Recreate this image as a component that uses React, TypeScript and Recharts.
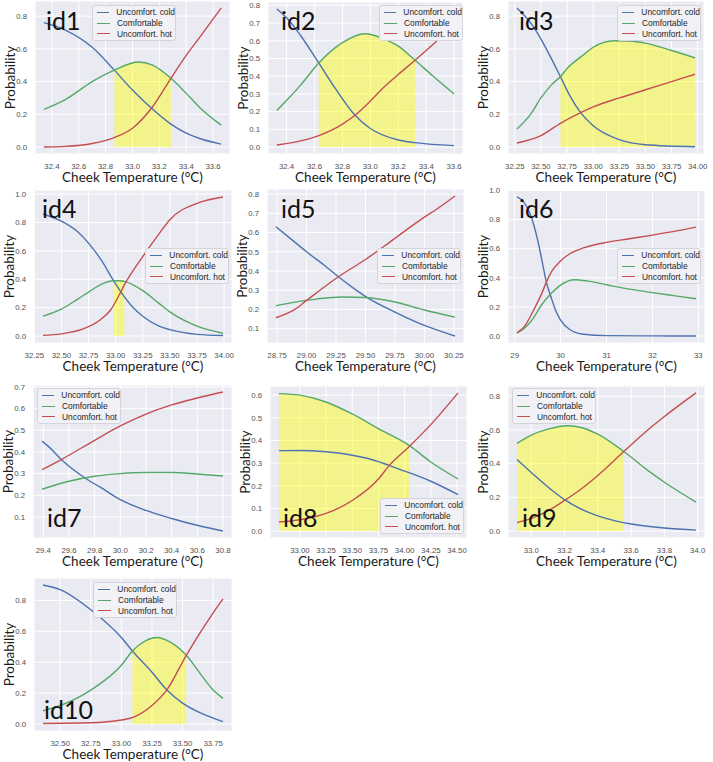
import React from 'react';
import { ComposedChart, Line, Area, XAxis, YAxis, CartesianGrid, Legend } from 'recharts';

type Pt = [number, number];

const seriesNames = ['Uncomfort. cold', 'Comfortable', 'Uncomfort. hot'];
const seriesColors = ['#4C72B0', '#55A868', '#C44E52'];

// id1
const id1Cold: Pt[] = [[32.34, 0.76], [32.5, 0.715], [32.7, 0.61], [32.865, 0.47], [33.0, 0.348], [33.144, 0.235], [33.286, 0.14], [33.4, 0.085], [33.5, 0.052], [33.66, 0.018]];
const id1Comfort: Pt[] = [[32.34, 0.23], [32.5, 0.29], [32.7, 0.4], [32.865, 0.47], [33.044, 0.52], [33.15, 0.5], [33.286, 0.42], [33.4, 0.328], [33.5, 0.242], [33.66, 0.134]];
const id1Hot: Pt[] = [[32.34, 0.0], [32.5, 0.004], [32.7, 0.022], [32.865, 0.058], [33.0, 0.115], [33.144, 0.24], [33.286, 0.42], [33.4, 0.56], [33.5, 0.67], [33.66, 0.85]];
const id1Zone: Pt = [32.865, 33.286];
const id1XTicks = [32.4, 32.6, 32.8, 33.0, 33.2, 33.4, 33.6];
const id1YTicks = [0, 0.2, 0.4, 0.6, 0.8];

// id2
const id2Cold: Pt[] = [[32.33, 0.78], [32.4, 0.73], [32.5, 0.63], [32.63, 0.475], [32.75, 0.33], [32.89, 0.18], [33.0, 0.105], [33.2, 0.04], [33.32, 0.025], [33.6, 0.008]];
const id2Comfort: Pt[] = [[32.33, 0.207], [32.4, 0.264], [32.5, 0.35], [32.63, 0.475], [32.8, 0.59], [32.96, 0.64], [33.1, 0.61], [33.2, 0.57], [33.32, 0.49], [33.45, 0.4], [33.6, 0.3]];
const id2Hot: Pt[] = [[32.33, 0.012], [32.5, 0.035], [32.63, 0.065], [32.8, 0.13], [32.89, 0.18], [33.0, 0.26], [33.1, 0.34], [33.2, 0.41], [33.32, 0.49], [33.45, 0.58], [33.6, 0.69]];
const id2Zone: Pt = [32.63, 33.32];
const id2XTicks = [32.4, 32.6, 32.8, 33.0, 33.2, 33.4, 33.6];
const id2YTicks = [0, 0.1, 0.2, 0.3, 0.4, 0.5, 0.6, 0.7, 0.8];

// id3
const id3Cold: Pt[] = [[32.27, 0.85], [32.4, 0.76], [32.5, 0.66], [32.6, 0.54], [32.686, 0.43], [32.78, 0.31], [32.88, 0.21], [33.0, 0.13], [33.25, 0.045], [33.5, 0.014], [33.975, 0.002]];
const id3Comfort: Pt[] = [[32.27, 0.11], [32.4, 0.2], [32.5, 0.3], [32.6, 0.38], [32.686, 0.43], [32.75, 0.48], [32.9, 0.56], [33.0, 0.61], [33.2, 0.65], [33.35, 0.648], [33.5, 0.635], [33.75, 0.59], [33.975, 0.545]];
const id3Hot: Pt[] = [[32.27, 0.025], [32.5, 0.07], [32.686, 0.145], [32.88, 0.21], [33.0, 0.245], [33.25, 0.3], [33.5, 0.35], [33.75, 0.4], [33.975, 0.445]];
const id3Zone: Pt = [32.686, 33.975];
const id3XTicks = [32.25, 32.5, 32.75, 33.0, 33.25, 33.5, 33.75, 34.0];
const id3YTicks = [0, 0.2, 0.4, 0.6, 0.8];

// id4
const id4Cold: Pt[] = [[32.33, 0.86], [32.5, 0.81], [32.65, 0.735], [32.75, 0.655], [32.88, 0.52], [32.98, 0.39], [33.04, 0.32], [33.15, 0.21], [33.25, 0.14], [33.4, 0.07], [33.5, 0.045], [33.75, 0.012], [33.99, 0.004]];
const id4Comfort: Pt[] = [[32.33, 0.14], [32.5, 0.19], [32.65, 0.26], [32.75, 0.31], [32.88, 0.37], [32.98, 0.39], [33.04, 0.39], [33.08, 0.385], [33.25, 0.32], [33.4, 0.23], [33.5, 0.17], [33.75, 0.07], [33.99, 0.02]];
const id4Hot: Pt[] = [[32.33, 0.005], [32.5, 0.015], [32.7, 0.05], [32.85, 0.11], [32.95, 0.18], [33.04, 0.3], [33.08, 0.36], [33.25, 0.56], [33.4, 0.72], [33.5, 0.82], [33.75, 0.935], [33.99, 0.98]];
const id4Zone: Pt = [32.98, 33.08];
const id4XTicks = [32.25, 32.5, 32.75, 33.0, 33.25, 33.5, 33.75, 34.0];
const id4YTicks = [0, 0.2, 0.4, 0.6, 0.8, 1.0];

// id5
const id5Cold: Pt[] = [[28.74, 0.63], [28.9, 0.55], [29.0, 0.5], [29.15, 0.43], [29.27, 0.37], [29.4, 0.31], [29.53, 0.256], [29.75, 0.186], [30.0, 0.117], [30.1, 0.095], [30.26, 0.062]];
const id5Comfort: Pt[] = [[28.74, 0.22], [29.0, 0.247], [29.3, 0.265], [29.5, 0.262], [29.75, 0.239], [30.0, 0.197], [30.26, 0.16]];
const id5Hot: Pt[] = [[28.74, 0.157], [28.9, 0.2], [29.0, 0.247], [29.27, 0.37], [29.5, 0.46], [29.75, 0.57], [30.0, 0.68], [30.1, 0.72], [30.26, 0.79]];
const id5XTicks = [28.75, 29.0, 29.25, 29.5, 29.75, 30.0, 30.25];
const id5YTicks = [0.1, 0.2, 0.3, 0.4, 0.5, 0.6, 0.7, 0.8];

// id6
const id6Cold: Pt[] = [[29.05, 0.955], [29.2, 0.92], [29.35, 0.83], [29.5, 0.66], [29.6, 0.51], [29.69, 0.37], [29.79, 0.27], [29.9, 0.17], [30.0, 0.11], [30.2, 0.045], [30.5, 0.012], [31.0, 0.003], [32.0, 0.001], [32.95, 0.0]];
const id6Comfort: Pt[] = [[29.05, 0.022], [29.2, 0.05], [29.4, 0.12], [29.6, 0.22], [29.79, 0.29], [30.0, 0.35], [30.31, 0.387], [30.6, 0.377], [31.0, 0.352], [31.5, 0.322], [32.0, 0.298], [32.5, 0.276], [32.95, 0.256]];
const id6Hot: Pt[] = [[29.05, 0.022], [29.2, 0.06], [29.4, 0.17], [29.6, 0.3], [29.69, 0.37], [29.8, 0.44], [30.0, 0.515], [30.2, 0.565], [30.5, 0.605], [31.0, 0.643], [31.5, 0.668], [32.0, 0.693], [32.5, 0.72], [32.95, 0.748]];
const id6XTicks = [29, 30, 31, 32, 33];
const id6YTicks = [0, 0.2, 0.4, 0.6, 0.8, 1.0];

// id7
const id7Cold: Pt[] = [[29.39, 0.45], [29.45, 0.42], [29.54, 0.365], [29.63, 0.32], [29.725, 0.28], [29.85, 0.235], [30.0, 0.18], [30.2, 0.13], [30.4, 0.093], [30.6, 0.062], [30.8, 0.035]];
const id7Comfort: Pt[] = [[29.39, 0.228], [29.6, 0.265], [29.8, 0.288], [30.0, 0.3], [30.2, 0.305], [30.4, 0.305], [30.6, 0.298], [30.8, 0.289]];
const id7Hot: Pt[] = [[29.39, 0.318], [29.54, 0.365], [29.8, 0.454], [30.0, 0.52], [30.2, 0.575], [30.4, 0.617], [30.6, 0.649], [30.8, 0.677]];
const id7XTicks = [29.4, 29.6, 29.8, 30.0, 30.2, 30.4, 30.6, 30.8];
const id7YTicks = [0.1, 0.2, 0.3, 0.4, 0.5, 0.6, 0.7];

// id8
const id8Cold: Pt[] = [[32.8, 0.355], [33.0, 0.356], [33.25, 0.35], [33.5, 0.335], [33.75, 0.307], [33.85, 0.29], [34.0, 0.265], [34.25, 0.22], [34.51, 0.161]];
const id8Comfort: Pt[] = [[32.8, 0.607], [33.0, 0.6], [33.25, 0.57], [33.5, 0.517], [33.75, 0.452], [34.05, 0.376], [34.25, 0.305], [34.51, 0.23]];
const id8Hot: Pt[] = [[32.8, 0.04], [33.0, 0.05], [33.25, 0.078], [33.5, 0.135], [33.75, 0.23], [33.85, 0.288], [34.05, 0.376], [34.25, 0.47], [34.51, 0.61]];
const id8Zone: Pt = [32.8, 34.05];
const id8XTicks = [33.0, 33.25, 33.5, 33.75, 34.0, 34.25, 34.5];
const id8YTicks = [0, 0.1, 0.2, 0.3, 0.4, 0.5, 0.6];

// id9
const id9Cold: Pt[] = [[32.914, 0.425], [33.0, 0.348], [33.1, 0.262], [33.2, 0.187], [33.3, 0.13], [33.4, 0.09], [33.5, 0.062], [33.6, 0.042], [33.8, 0.018], [33.99, 0.006]];
const id9Comfort: Pt[] = [[32.914, 0.52], [33.0, 0.57], [33.1, 0.605], [33.22, 0.625], [33.3, 0.615], [33.4, 0.575], [33.556, 0.472], [33.7, 0.36], [33.8, 0.29], [33.99, 0.172]];
const id9Hot: Pt[] = [[32.914, 0.05], [33.0, 0.075], [33.1, 0.12], [33.2, 0.182], [33.3, 0.25], [33.4, 0.33], [33.556, 0.472], [33.7, 0.6], [33.8, 0.68], [33.99, 0.82]];
const id9Zone: Pt = [32.914, 33.556];
const id9XTicks = [33.0, 33.2, 33.4, 33.6, 33.8, 34.0];
const id9YTicks = [0, 0.2, 0.4, 0.6, 0.8];

// id10
const id10Cold: Pt[] = [[32.36, 0.9], [32.5, 0.87], [32.75, 0.74], [33.0, 0.56], [33.09, 0.473], [33.25, 0.335], [33.37, 0.222], [33.5, 0.135], [33.65, 0.07], [33.75, 0.038], [33.83, 0.016]];
const id10Comfort: Pt[] = [[32.36, 0.086], [32.5, 0.12], [32.75, 0.22], [33.0, 0.38], [33.09, 0.473], [33.2, 0.54], [33.29, 0.56], [33.4, 0.53], [33.53, 0.445], [33.65, 0.32], [33.75, 0.22], [33.83, 0.166]];
const id10Hot: Pt[] = [[32.36, 0.004], [32.75, 0.008], [33.0, 0.026], [33.1, 0.045], [33.25, 0.12], [33.37, 0.219], [33.53, 0.445], [33.65, 0.6], [33.75, 0.72], [33.83, 0.81]];
const id10Zone: Pt = [33.09, 33.53];
const id10XTicks = [32.5, 32.75, 33.0, 33.25, 33.5, 33.75];
const id10YTicks = [0, 0.2, 0.4, 0.6, 0.8];

// plot rect [left, top, right, bottom], legend top-left, tag baseline-left (page px)
const panels = [
  { tag: 'id1', cold: id1Cold, comfort: id1Comfort, hot: id1Hot, zone: id1Zone, xTicks: id1XTicks, yTicks: id1YTicks, dec: 1, box: [35, 1, 230, 154], legend: [92, 5], tagAt: [46, 30] },
  { tag: 'id2', cold: id2Cold, comfort: id2Comfort, hot: id2Hot, zone: id2Zone, xTicks: id2XTicks, yTicks: id2YTicks, dec: 1, box: [268, 2, 463, 154], legend: [379, 5], tagAt: [281, 30] },
  { tag: 'id3', cold: id3Cold, comfort: id3Comfort, hot: id3Hot, zone: id3Zone, xTicks: id3XTicks, yTicks: id3YTicks, dec: 2, box: [508, 1, 704, 154], legend: [617, 5], tagAt: [519, 30] },
  { tag: 'id4', cold: id4Cold, comfort: id4Comfort, hot: id4Hot, zone: id4Zone, xTicks: id4XTicks, yTicks: id4YTicks, dec: 2, box: [34, 190, 232, 343], legend: [145, 248], tagAt: [42, 218] },
  { tag: 'id5', cold: id5Cold, comfort: id5Comfort, hot: id5Hot, zone: null, xTicks: id5XTicks, yTicks: id5YTicks, dec: 2, box: [267, 189, 464, 343], legend: [377, 248], tagAt: [281, 218] },
  { tag: 'id6', cold: id6Cold, comfort: id6Comfort, hot: id6Hot, zone: null, xTicks: id6XTicks, yTicks: id6YTicks, dec: 0, box: [508, 190, 705, 343], legend: [617, 248], tagAt: [519, 218] },
  { tag: 'id7', cold: id7Cold, comfort: id7Comfort, hot: id7Hot, zone: null, xTicks: id7XTicks, yTicks: id7YTicks, dec: 1, box: [33, 385, 232, 538], legend: [37, 388], tagAt: [47, 527] },
  { tag: 'id8', cold: id8Cold, comfort: id8Comfort, hot: id8Hot, zone: id8Zone, xTicks: id8XTicks, yTicks: id8YTicks, dec: 2, box: [270, 386, 467, 538], legend: [380, 498], tagAt: [283, 527] },
  { tag: 'id9', cold: id9Cold, comfort: id9Comfort, hot: id9Hot, zone: id9Zone, xTicks: id9XTicks, yTicks: id9YTicks, dec: 1, box: [508, 386, 705, 538], legend: [512, 388], tagAt: [522, 527] },
  { tag: 'id10', cold: id10Cold, comfort: id10Comfort, hot: id10Hot, zone: id10Zone, xTicks: id10XTicks, yTicks: id10YTicks, dec: 2, box: [34, 578, 232, 731], legend: [93, 582], tagAt: [44, 719] },
];

const Y_AXIS_W = 35;
const X_AXIS_H = 32;
const M_TOP = 8;
const M_RIGHT = 8;
const tickStyle = { fontSize: 7.8, fill: '#505050', fontFamily: 'Liberation Sans, Arial, sans-serif' };
const labelStyle = { fontSize: 13.5, fill: '#1a1a1a', fontFamily: 'Lato, sans-serif' };

const pad = (vals: number[]): [number, number] => {
  const lo = Math.min(...vals);
  const hi = Math.max(...vals);
  const m = (hi - lo) * 0.05;
  return [lo - m, hi + m];
};

const toRows = (pts: Pt[]) => pts.map(([x, y]) => ({ x, y }));

const LegendBox = () => (
  <div
    style={{
      background: '#F1F1F6',
      border: '1px solid #D4D4DC',
      borderRadius: 3,
      padding: '1px 0',
      width: 84,
      boxSizing: 'border-box',
    }}
  >
    {seriesNames.map((name, i) => (
      <div
        key={name}
        style={{
          display: 'flex',
          alignItems: 'center',
          height: 10.7,
          fontSize: 8.4,
          fontFamily: 'Liberation Sans, Arial, sans-serif',
          color: '#262626',
          whiteSpace: 'nowrap',
        }}
      >
        <span style={{ display: 'inline-block', width: 13, marginLeft: 4, marginRight: 7, borderTop: `1.4px solid ${seriesColors[i]}` }} />
        {name}
      </div>
    ))}
  </div>
);

function Panel({ p }: { p: (typeof panels)[number] }) {
  const [l, t, r, b] = p.box;
  const w = r - l + Y_AXIS_W + M_RIGHT;
  const h = b - t + X_AXIS_H + M_TOP;
  const all = [...p.cold, ...p.comfort, ...p.hot];
  const xDomain = pad(all.map((d) => d[0]));
  const yDomain = pad([...all.map((d) => d[1]), ...(p.zone ? [0] : [])]);
  const zone = p.zone;
  const zoneRows = zone ? toRows(p.comfort.filter(([x]) => x >= zone[0] && x <= zone[1])) : [];
  const series = [p.cold, p.comfort, p.hot];
  const originX = l - Y_AXIS_W;
  const originY = t - M_TOP;

  return (
    <div style={{ position: 'absolute', left: originX, top: originY }}>
      <ComposedChart width={w} height={h} margin={{ top: M_TOP, right: M_RIGHT, bottom: 0, left: 0 }}>
        <CartesianGrid fill="#EAEAF2" stroke="#FFFFFF" strokeWidth={1} />
        <XAxis
          type="number"
          dataKey="x"
          domain={xDomain}
          allowDataOverflow
          ticks={p.xTicks}
          interval={0}
          tickFormatter={(v: number) => v.toFixed(p.dec)}
          axisLine={false}
          tickLine={false}
          tickMargin={3}
          height={X_AXIS_H}
          tick={tickStyle}
          label={{ value: 'Cheek Temperature (°C)', position: 'insideBottom', offset: 4, style: labelStyle }}
        />
        <YAxis
          type="number"
          dataKey="y"
          domain={yDomain}
          allowDataOverflow
          ticks={p.yTicks}
          interval={0}
          tickFormatter={(v: number) => v.toFixed(1)}
          axisLine={false}
          tickLine={false}
          width={Y_AXIS_W}
          tick={tickStyle}
          label={{ value: 'Probability', angle: -90, position: 'insideLeft', offset: 10, style: { ...labelStyle, textAnchor: 'middle' } }}
        />
        {zone && (
          <Area
            data={zoneRows}
            dataKey="y"
            type="monotone"
            baseValue={0}
            fill="#FFFF00"
            fillOpacity={0.42}
            stroke="none"
            legendType="none"
            isAnimationActive={false}
          />
        )}
        {series.map((s, i) => (
          <Line
            key={seriesNames[i]}
            data={toRows(s)}
            dataKey="y"
            name={seriesNames[i]}
            type="monotone"
            stroke={seriesColors[i]}
            strokeWidth={1.4}
            dot={false}
            activeDot={false}
            isAnimationActive={false}
          />
        ))}
        <Legend
          layout="horizontal"
          verticalAlign="middle"
          align="center"
          wrapperStyle={{ left: p.legend[0] - originX, top: p.legend[1] - originY, width: 'auto', height: 'auto' }}
          content={<LegendBox />}
        />
      </ComposedChart>
    </div>
  );
}

export default function App() {
  return (
    <div style={{ position: 'absolute', left: 0, top: 0, width: 713, height: 762, background: '#fff' }}>
      {panels.map((p) => (
        <Panel key={p.tag} p={p} />
      ))}
      <svg width={713} height={762} style={{ position: 'absolute', left: 0, top: 0, pointerEvents: 'none' }}>
        {panels.map((p) => (
          <text key={p.tag} x={p.tagAt[0]} y={p.tagAt[1]} fontSize={25} fontFamily="Lato, sans-serif" fill="#111">
            {p.tag}
          </text>
        ))}
      </svg>
    </div>
  );
}
